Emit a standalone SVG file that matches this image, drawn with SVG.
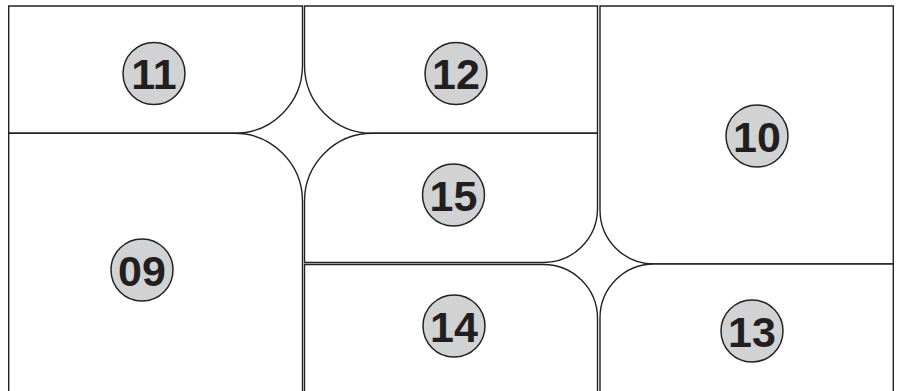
<svg xmlns="http://www.w3.org/2000/svg" width="897" height="391" viewBox="0 0 897 391">
<style>
.cell{fill:#fff;stroke:#222;stroke-width:1.4}
.badge{fill:#d1d2d3;stroke:#222;stroke-width:1.5}
.lbl{font-family:"Liberation Sans",Arial,sans-serif;font-weight:bold;font-size:43px;fill:#231f20;text-anchor:middle}
</style>
<rect width="897" height="391" fill="#fff"/>
<g id="cell-11"><path class="cell" d="M8.7,6 H302.5 V65.3 A68,68 0 0 1 234.5,133.3 H8.7 Z"/><circle class="badge" cx="154" cy="73.5" r="31"/><text class="lbl" x="154" y="89">11</text></g>
<g id="cell-12"><path class="cell" d="M304.5,6 H597.5 V133.3 H372.5 A68,68 0 0 1 304.5,65.3 Z"/><circle class="badge" cx="456" cy="73.5" r="31"/><text class="lbl" x="456" y="89">12</text></g>
<g id="cell-09"><path class="cell" d="M8.7,133.3 H234.5 A68,68 0 0 1 302.5,201.3 V400 H8.7 Z"/><circle class="badge" cx="142" cy="270" r="31"/><text class="lbl" x="142" y="285.5">09</text></g>
<g id="cell-15"><path class="cell" d="M372.5,133.3 H597.5 V208.5 A54,54 0 0 1 543.5,262.5 H304.5 V201.3 A68,68 0 0 1 372.5,133.3 Z"/><circle class="badge" cx="453.5" cy="195" r="31"/><text class="lbl" x="453.5" y="210.5">15</text></g>
<g id="cell-10"><path class="cell" d="M600,6 H893.3 V264 H654 A54,54 0 0 1 600,210 Z"/><circle class="badge" cx="757" cy="136" r="31"/><text class="lbl" x="757" y="151.5">10</text></g>
<g id="cell-14"><path class="cell" d="M304.5,264.5 H543.5 A54,54 0 0 1 597.5,318.5 V400 H304.5 Z"/><circle class="badge" cx="454" cy="326" r="31"/><text class="lbl" x="454" y="341.5">14</text></g>
<g id="cell-13"><path class="cell" d="M654,264 H893.3 V400 H600 V318 A54,54 0 0 1 654,264 Z"/><circle class="badge" cx="752" cy="331" r="31"/><text class="lbl" x="752" y="346.5">13</text></g>
<g id="connectors"></g>
</svg>
